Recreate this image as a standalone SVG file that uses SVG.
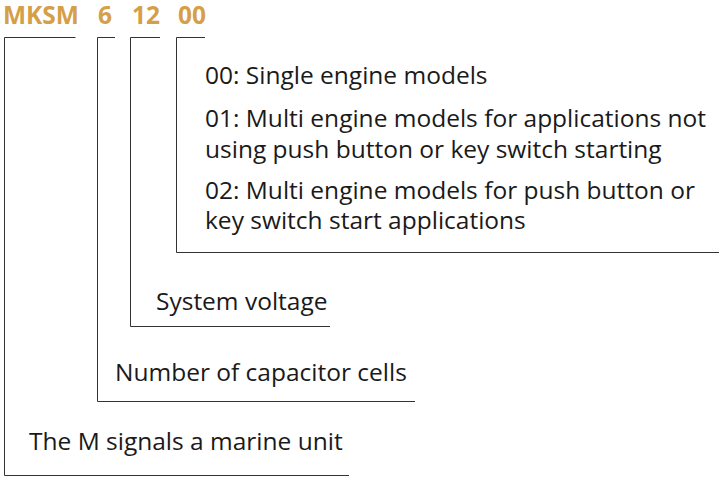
<svg xmlns="http://www.w3.org/2000/svg" width="723" height="480" viewBox="0 0 723 480">
<style>
.t{font-family:"Open Sans","Liberation Sans",sans-serif;font-size:24.5px;fill:#1a1a1a}
.h{font-family:"Open Sans","Liberation Sans",sans-serif;font-size:24.5px;font-weight:bold;fill:#d59f48}
.c{fill:none;stroke:#333;stroke-width:1}
</style>
<rect width="723" height="480" fill="#fff"/>
<g id="code">
<text class="h" x="3" y="24">MKSM</text>
<text class="h" x="98" y="24">6</text>
<text class="h" x="132" y="24">12</text>
<text class="h" x="178" y="24">00</text>
</g>
<g id="connectors">
<polyline class="c" points="75.5,37.5 4.5,37.5 4.5,475.5 349,475.5"/>
<polyline class="c" points="115,37.5 97.5,37.5 97.5,401.5 415,401.5"/>
<polyline class="c" points="160,37.5 130.5,37.5 130.5,326.5 330,326.5"/>
<polyline class="c" points="205,37.5 176.5,37.5 176.5,252.5 719,252.5"/>
</g>
<g id="n-00">
<text class="t" x="205" y="84">00: Single engine models</text>
<text class="t" x="205" y="127">01: Multi engine models for applications not</text>
<text class="t" x="205" y="158">using push button or key switch starting</text>
<text class="t" x="205" y="199">02: Multi engine models for push button or</text>
<text class="t" x="205" y="229">key switch start applications</text>
</g>
<g id="n-12"><text class="t" x="156" y="310">System voltage</text></g>
<g id="n-6"><text class="t" x="115" y="381">Number of capacitor cells</text></g>
<g id="n-mksm"><text class="t" x="29" y="450">The M signals a marine unit</text></g>
</svg>
